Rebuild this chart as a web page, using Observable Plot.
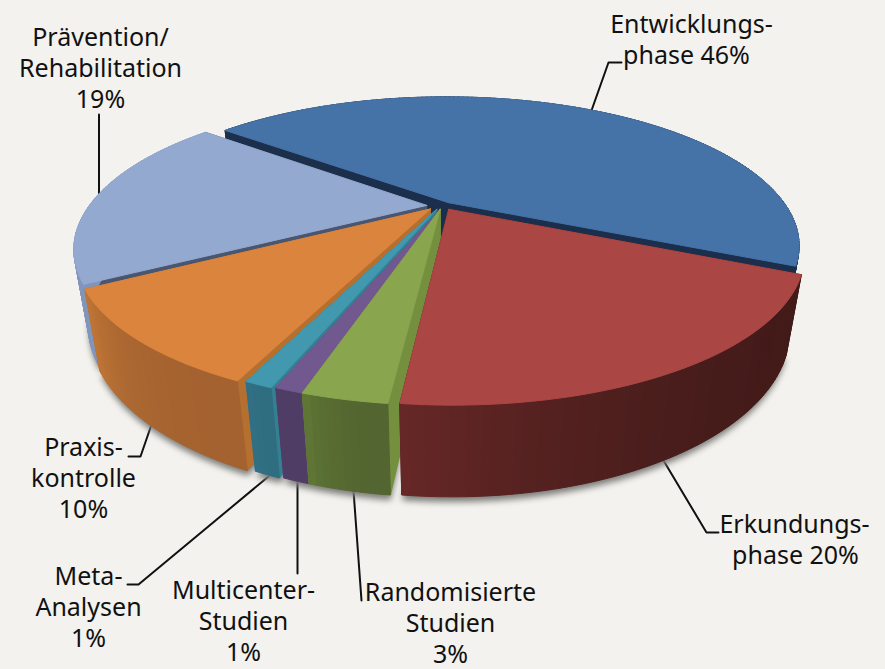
<!DOCTYPE html>
<html><head><meta charset="utf-8">
<script src="https://cdn.jsdelivr.net/npm/d3@7"></script>
<script src="https://cdn.jsdelivr.net/npm/@observablehq/plot@0.6"></script>
<style>html,body{margin:0;padding:0;background:#f3f2ee}svg{display:block}</style>
</head><body><div id="c"></div>
<script>
// data (clockwise from the start of the large slice)
const names = ["Entwicklungsphase","Erkundungsphase","Randomisierte Studien","Multicenter-Studien","Meta-Analysen","Praxiskontrolle","Prävention/Rehabilitation"];
const values = [46,20,3,1,1,10,19];
const topColors = ["#4572a7","#aa4643","#89a54e","#71588f","#4198af","#db843d","#93a9cf"];
const cutColors = ["#1b2f4c","#5a2524","#748f3e","#5f4a7d","#357f92","#b56f2f","#4a5670"];
const wallStart = ["#1c304c","#431b19","#536530","#4f3d66","#2f6e80","#a46230","#8296bc"];
const wallEnd   = ["#1c304c","#662827","#5f7736","#4f3d66","#336f85","#c07636","#8296bc"];
const shiftU    = [0.03,0.03,0.005,0.005,-0.005,-0.024,-0.035];
const shiftV    = [-0.028,0.02,0.02,0.02,0.02,0.018,-0.008];
const paintOrder = [0,6,5,4,3,2,1];
const startDeg = 218.8;

const labelText = ["Entwicklungs-","phase 46%","Prävention/","Rehabilitation","19%","Erkundungs-","phase 20%","Randomisierte","Studien","3%","Multicenter-","Studien","1%","Meta-","Analysen","1%","Praxis-","kontrolle","10%"];
const labelX = [691,686,100,100,100,794,795,450,450,450,243,243,243,88,88,88,83,83,83];
const labelY = [24,55,37,68,99,524,555,592,623,654,590,621,652,576,607,638,447,478,509];
const leaders = [
  [[591,110],[608,62],[621,62]],
  [[663,460],[706,532],[718,532]],
  [[98.5,114],[98.5,193]],
  [[150.7,425],[140,456],[128,456]],
  [[268,476],[138,584],[127,584]],
  [[297,482],[297,573]],
  [[353,490],[361,600]]
];

// oblique camera for the disc
const cx=438, cy=206, A=338, B=138, C=76, k=0.2857, m=0.038;
const total=d3.sum(values);
let acc=startDeg;
const slices=values.map((v,i)=>{
  const a0=acc*Math.PI/180; acc+=v/total*360; const a1=acc*Math.PI/180;
  return {i,a0,a1,ox:shiftU[i],oy:shiftV[i]};
});
function proj(s,t,r,z){
  const u=s.ox+r*Math.cos(t), v=s.oy+r*Math.sin(t), w=1-k*v+m*z;
  return [cx+A*u/w, cy+(B*v+C*z)/w];
}
const polys=[]; const shadow=[]; let id=0;
function add(arr,pts,fill){const n=id++; [...pts,pts[0]].forEach(p=>arr.push({id:n,x:p[0],y:p[1],fill}));}
for(const i of paintOrder){
  const s=slices[i];
  const n=Math.max(4,Math.ceil((s.a1-s.a0)/(Math.PI/180)));
  const ts=d3.range(n+1).map(j=>s.a0+(s.a1-s.a0)*j/n);
  add(shadow,[proj(s,0,0,1.04),...ts.map(t=>proj(s,t,1,1.06))],"#7d7d7b");
  for(const t of [s.a1,s.a0]){
    add(polys,[proj(s,t,0,0),proj(s,t,1,0),proj(s,t,1,1),proj(s,t,0,1)],cutColors[i]);
  }
  const ramp=d3.interpolateRgb(wallStart[i],wallEnd[i]);
  for(let j=0;j<n;j++){
    add(polys,[proj(s,ts[j],1,0),proj(s,ts[j+1],1,0),proj(s,ts[j+1],1,1),proj(s,ts[j],1,1)],ramp(Math.pow((j+.5)/n,2.5)));
  }
  add(polys,[proj(s,0,0,0),...ts.map(t=>proj(s,t,1,0))],topColors[i]);
}
const leaderRows=leaders.flatMap((l,n)=>l.map(p=>({n,x:p[0],y:p[1]})));
const blur=(index,scales,values,dims,ctx,next)=>{const g=next(index,scales,values,dims,ctx);g.style.filter="blur(3px)";return g;};

const chart=Plot.plot({
  width:885,height:669,margin:0,
  style:{background:"#f3f2ee",fontFamily:"'Noto Sans',sans-serif"},
  x:{domain:[0,885],range:[0,885],axis:null},
  y:{domain:[0,669],range:[0,669],axis:null},
  color:{type:"identity"},
  marks:[
    Plot.line(leaderRows,{x:"x",y:"y",z:"n",stroke:"#111",strokeWidth:2}),
    Plot.line(shadow,{x:"x",y:"y",z:"id",fill:"fill",stroke:"none",render:blur}),
    Plot.line(polys,{x:"x",y:"y",z:"id",fill:"fill",stroke:"fill",strokeWidth:1,strokeLinejoin:"round"}),
    Plot.text(labelText,{x:(d,i)=>labelX[i],y:(d,i)=>labelY[i],text:d=>d,fontSize:25,fill:"#111",textAnchor:"middle",lineAnchor:"middle"})
  ]
});
document.getElementById("c").append(chart);
</script></body></html>
